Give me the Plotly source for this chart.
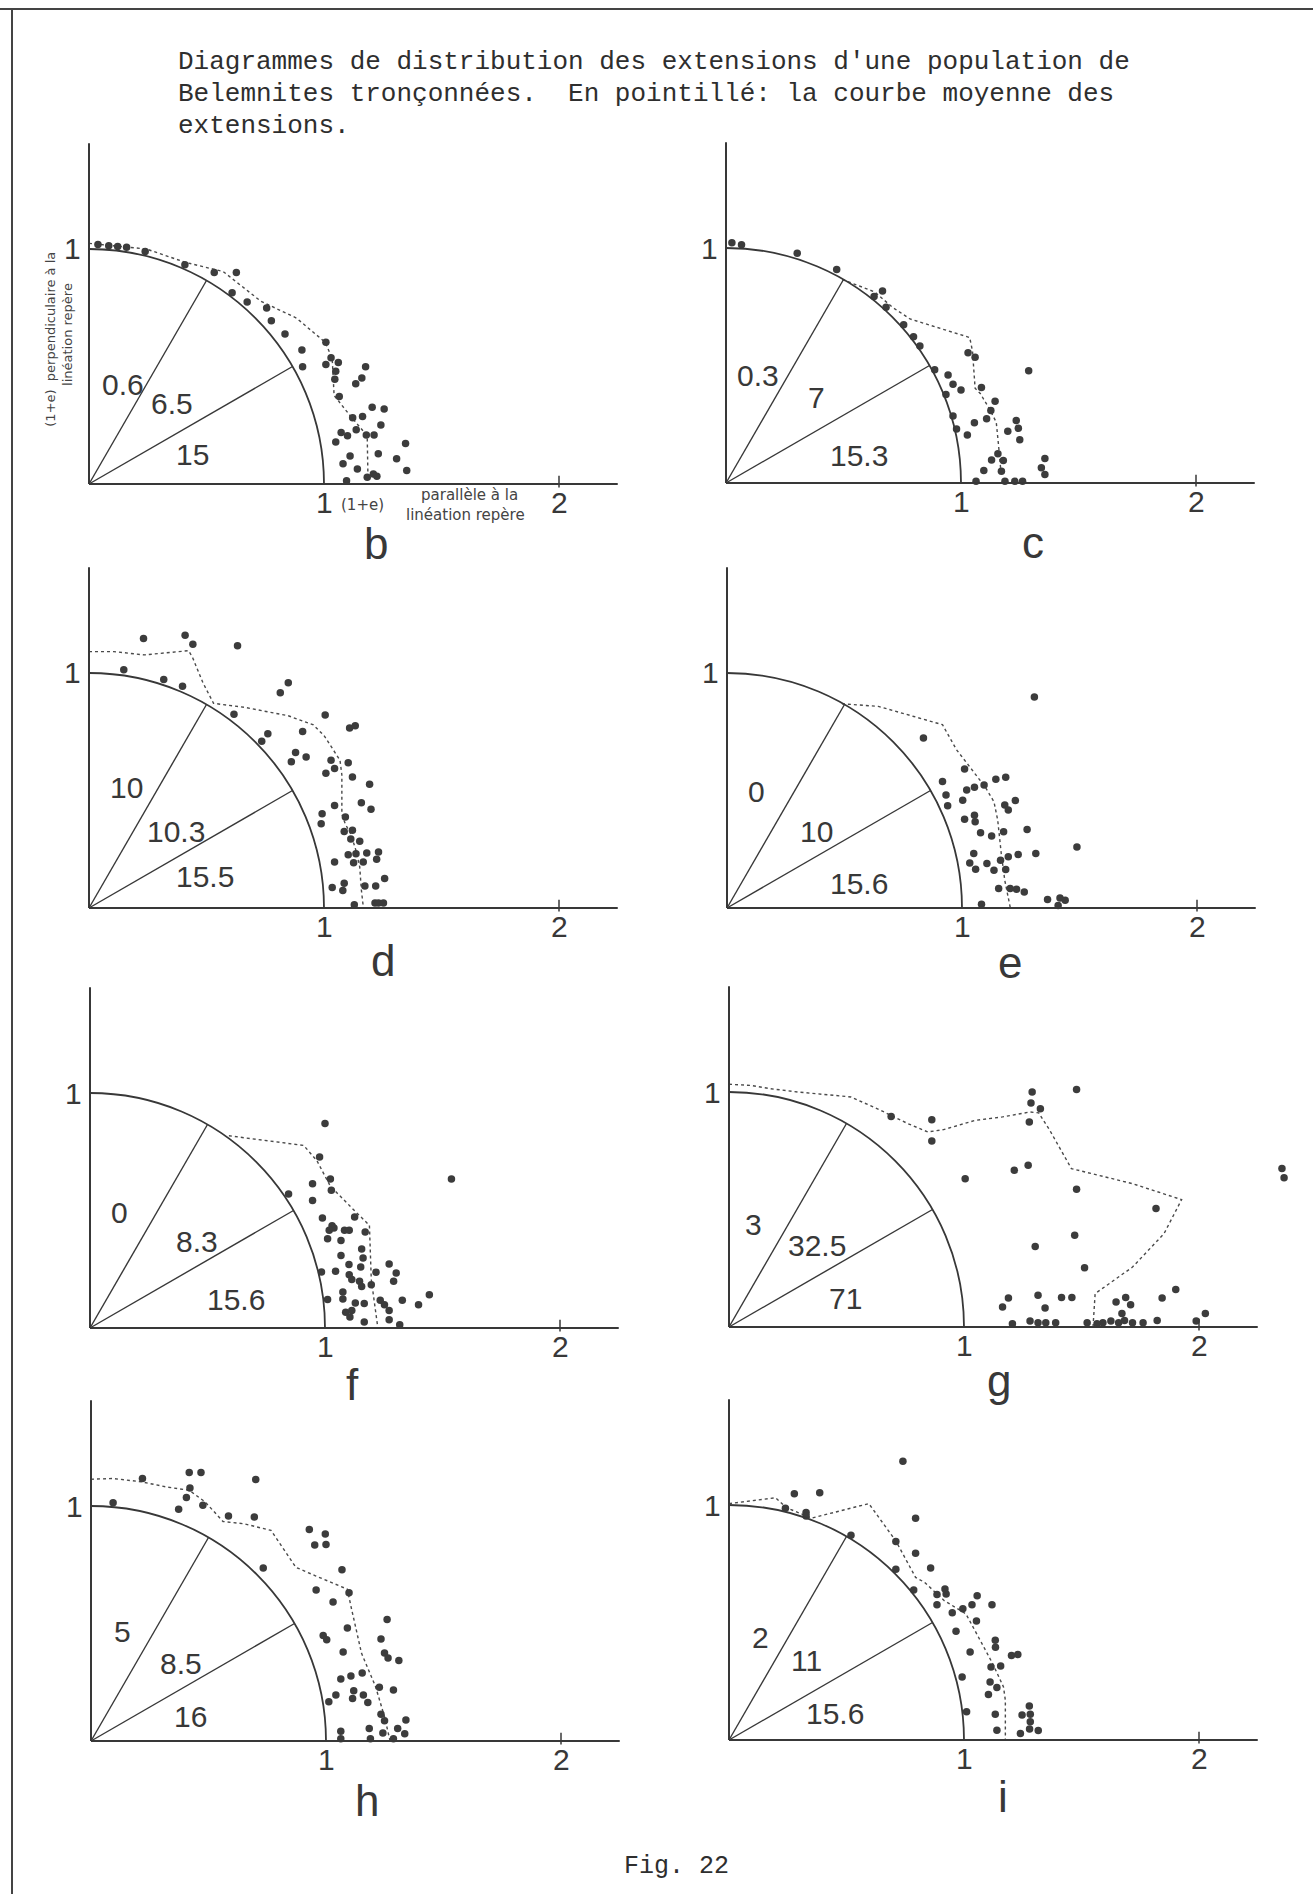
import math
import plotly.graph_objects as go

FIG_W, FIG_H = 1313, 1894
UNIT_PX = 235.0
X_RANGE = [-0.25, 2.45]
Y_RANGE = [-0.32, 1.5]
AXIS_X_END = 2.25
AXIS_Y_END = 1.45

INK = "#383838"
DOT = "#3c3c3c"

TITLE_LINES = [
    "Diagrammes de distribution des extensions d'une population de",
    "Belemnites tronçonnées.\u00a0 En pointillé: la courbe moyenne des",
    "extensions.",
]
FIG_LABEL = "Fig. 22"

PANELS = ["b", "c", "d", "e", "f", "g", "h", "i"]
ORIGIN_PX = {"b": (89, 484), "c": (726, 483), "d": (89, 908), "e": (727, 908),
             "f": (90, 1328), "g": (729, 1327), "h": (91, 1741), "i": (729, 1740)}
DIVIDER_ANGLES_DEG = [60, 30]
X_TICKS = [1, 2]
Y_TICKS = [1]

SECTOR_LABELS = {
    "b": ["0.6", "6.5", "15"], "c": ["0.3", "7", "15.3"], "d": ["10", "10.3", "15.5"],
    "e": ["0", "10", "15.6"], "f": ["0", "8.3", "15.6"], "g": ["3", "32.5", "71"],
    "h": ["5", "8.5", "16"], "i": ["2", "11", "15.6"],
}
SECTOR_LABEL_POS = {
    "b": [(0.145, 0.424), (0.353, 0.341), (0.441, 0.126)],
    "c": [(0.138, 0.458), (0.385, 0.363), (0.565, 0.118)],
    "d": [(0.159, 0.513), (0.371, 0.326), (0.492, 0.133)],
    "e": [(0.126, 0.495), (0.379, 0.324), (0.561, 0.104)],
    "f": [(0.126, 0.492), (0.455, 0.369), (0.621, 0.121)],
    "g": [(0.106, 0.437), (0.374, 0.348), (0.497, 0.121)],
    "h": [(0.136, 0.464), (0.381, 0.331), (0.423, 0.103)],
    "i": [(0.134, 0.438), (0.328, 0.339), (0.450, 0.113)],
}
LETTER_POS = {"b": (1.22, -0.252), "c": (1.307, -0.252), "d": (1.25, -0.224), "e": (1.205, -0.23),
              "f": (1.117, -0.241), "g": (1.151, -0.227), "h": (1.174, -0.254), "i": (1.165, -0.24)}

# ---- measured points (1+e parallel, 1+e perpendicular) ----
b_x = [0.038, 0.084, 0.122, 0.160, 0.239, 0.408, 0.533, 0.627, 0.609, 0.673, 0.756, 0.776, 0.834, 0.906,
       0.909, 1.008, 1.030, 1.008, 1.061, 1.050, 1.046, 1.177, 1.161, 1.135, 1.065, 1.205, 1.256, 1.164,
       1.122, 1.242, 1.073, 1.137, 1.100, 1.180, 1.213, 1.050, 1.347, 1.231, 1.309, 1.111, 1.081, 1.142,
       1.352, 1.210, 1.184, 1.225, 1.096]
b_y = [1.019, 1.014, 1.011, 1.007, 0.989, 0.933, 0.900, 0.900, 0.814, 0.775, 0.749, 0.695, 0.638, 0.570,
       0.499, 0.603, 0.537, 0.509, 0.517, 0.480, 0.446, 0.499, 0.451, 0.427, 0.372, 0.327, 0.319, 0.287,
       0.282, 0.251, 0.219, 0.231, 0.205, 0.208, 0.209, 0.179, 0.172, 0.129, 0.107, 0.119, 0.086, 0.064,
       0.057, 0.043, 0.029, 0.033, 0.014]
b_mean_x = [0.0, 0.244, 0.411, 0.571, 0.731, 0.883, 1.005, 1.035, 1.043, 1.111, 1.172, 1.184, 1.187]
b_mean_y = [1.024, 1.000, 0.943, 0.904, 0.778, 0.706, 0.603, 0.534, 0.377, 0.291, 0.219, 0.198, 0.033]

c_x = [0.025, 0.066, 0.303, 0.471, 0.630, 0.666, 0.681, 0.756, 0.798, 0.825, 0.888, 0.945, 0.966, 1.000,
       0.936, 1.030, 1.060, 1.087, 1.145, 1.127, 1.109, 1.057, 1.288, 1.027, 0.966, 0.981, 1.235, 1.244,
       1.199, 1.250, 1.157, 1.130, 1.180, 1.097, 1.172, 1.357, 1.342, 1.357, 1.064, 1.187, 1.229, 1.262]
c_y = [1.022, 1.014, 0.978, 0.909, 0.794, 0.817, 0.748, 0.673, 0.622, 0.583, 0.482, 0.460, 0.420, 0.396,
       0.377, 0.554, 0.535, 0.406, 0.348, 0.309, 0.273, 0.256, 0.478, 0.204, 0.285, 0.230, 0.266, 0.233,
       0.220, 0.184, 0.125, 0.098, 0.096, 0.053, 0.050, 0.104, 0.065, 0.036, 0.007, 0.007, 0.007, 0.007]
c_mean_x = [0.495, 0.633, 0.708, 0.783, 1.037, 1.049, 1.060, 1.082, 1.120, 1.150, 1.160, 1.169]
c_mean_y = [0.866, 0.813, 0.748, 0.698, 0.619, 0.561, 0.403, 0.381, 0.317, 0.259, 0.158, 0.058]

d_x = [0.232, 0.409, 0.442, 0.632, 0.148, 0.318, 0.398, 0.814, 0.848, 0.617, 1.005, 1.109, 1.133, 0.735,
       0.761, 0.909, 0.879, 0.861, 0.924, 1.030, 1.103, 1.045, 1.008, 1.121, 1.194, 1.045, 1.159, 1.200,
       0.992, 0.988, 1.091, 1.086, 1.121, 1.114, 1.152, 1.103, 1.136, 1.182, 1.232, 1.045, 1.126, 1.167,
       1.224, 1.258, 1.035, 1.086, 1.080, 1.174, 1.220, 1.129, 1.217, 1.232, 1.253]
d_y = [1.147, 1.161, 1.122, 1.116, 1.014, 0.972, 0.944, 0.916, 0.958, 0.825, 0.821, 0.766, 0.776, 0.710,
       0.741, 0.751, 0.662, 0.622, 0.643, 0.629, 0.618, 0.594, 0.573, 0.557, 0.527, 0.436, 0.448, 0.420,
       0.401, 0.359, 0.387, 0.326, 0.331, 0.294, 0.284, 0.227, 0.231, 0.234, 0.238, 0.196, 0.193, 0.196,
       0.207, 0.126, 0.087, 0.105, 0.074, 0.094, 0.094, 0.014, 0.021, 0.021, 0.021]
d_mean_x = [0.0, 0.106, 0.235, 0.333, 0.424, 0.442, 0.485, 0.530, 0.667, 0.848, 0.955, 1.000, 1.045,
            1.068, 1.076, 1.076, 1.091, 1.114, 1.136, 1.152, 1.159, 1.167]
d_mean_y = [1.091, 1.091, 1.077, 1.087, 1.095, 1.063, 0.958, 0.871, 0.853, 0.818, 0.779, 0.734, 0.664,
            0.629, 0.566, 0.399, 0.357, 0.315, 0.245, 0.175, 0.077, 0.007]

e_x = [1.308, 0.836, 1.011, 0.917, 0.932, 0.939, 1.003, 1.020, 1.053, 1.094, 1.144, 1.186, 1.182, 1.227,
       1.197, 1.011, 1.053, 1.056, 1.079, 1.126, 1.177, 1.277, 1.050, 1.033, 1.058, 1.106, 1.136, 1.186,
       1.164, 1.197, 1.239, 1.314, 1.489, 1.156, 1.205, 1.232, 1.265, 1.364, 1.417, 1.439, 1.409, 1.083]
e_y = [0.898, 0.723, 0.592, 0.538, 0.481, 0.435, 0.459, 0.502, 0.514, 0.523, 0.548, 0.556, 0.438, 0.457,
       0.417, 0.378, 0.395, 0.367, 0.320, 0.306, 0.324, 0.334, 0.232, 0.192, 0.165, 0.189, 0.161, 0.164,
       0.203, 0.218, 0.228, 0.232, 0.260, 0.083, 0.083, 0.080, 0.068, 0.036, 0.043, 0.033, 0.011, 0.016]
e_mean_x = [0.489, 0.644, 0.795, 0.917, 0.977, 1.038, 1.098, 1.136, 1.152, 1.167, 1.182, 1.205]
e_mean_y = [0.869, 0.858, 0.815, 0.780, 0.673, 0.595, 0.516, 0.452, 0.374, 0.232, 0.118, 0.004]

f_x = [1.000, 0.977, 1.023, 1.027, 0.947, 0.947, 0.845, 0.989, 1.126, 1.030, 1.038, 1.018, 1.083, 1.103,
       1.171, 1.011, 1.068, 1.156, 1.068, 1.162, 1.102, 1.152, 0.985, 1.045, 1.103, 1.114, 1.147, 1.156,
       1.197, 1.217, 1.273, 1.303, 1.292, 1.076, 1.076, 1.011, 1.444, 1.235, 1.253, 1.329, 1.398, 1.129,
       1.167, 1.088, 1.114, 1.106, 1.273, 1.167, 1.273, 1.318, 1.538]
f_y = [0.870, 0.728, 0.634, 0.586, 0.614, 0.543, 0.570, 0.468, 0.472, 0.435, 0.426, 0.416, 0.416, 0.416,
       0.409, 0.380, 0.372, 0.336, 0.309, 0.298, 0.270, 0.260, 0.238, 0.241, 0.227, 0.206, 0.199, 0.177,
       0.184, 0.237, 0.272, 0.234, 0.199, 0.153, 0.123, 0.121, 0.142, 0.118, 0.099, 0.118, 0.099, 0.106,
       0.104, 0.067, 0.075, 0.047, 0.074, 0.026, 0.035, 0.014, 0.634]
f_mean_x = [0.591, 0.909, 0.965, 1.023, 1.129, 1.189, 1.197, 1.224]
f_mean_y = [0.818, 0.777, 0.713, 0.603, 0.496, 0.437, 0.206, 0.007]

g_x = [1.479, 1.290, 1.285, 1.325, 1.278, 0.863, 0.863, 0.690, 1.005, 1.214, 1.273, 2.353, 2.362, 1.479,
       1.817, 1.471, 1.303, 1.513, 1.901, 1.843, 1.189, 1.315, 1.415, 1.459, 1.164, 1.345, 1.647, 1.688,
       1.709, 1.672, 1.822, 2.027, 1.988, 1.206, 1.281, 1.315, 1.348, 1.390, 1.524, 1.566, 1.591, 1.625,
       1.658, 1.683, 1.717, 1.762]
g_y = [1.011, 1.000, 0.953, 0.929, 0.872, 0.882, 0.791, 0.896, 0.631, 0.667, 0.688, 0.674, 0.635, 0.586,
       0.504, 0.390, 0.343, 0.252, 0.160, 0.123, 0.123, 0.135, 0.125, 0.125, 0.085, 0.081, 0.106, 0.125,
       0.095, 0.057, 0.028, 0.057, 0.026, 0.014, 0.026, 0.018, 0.018, 0.018, 0.018, 0.014, 0.018, 0.026,
       0.018, 0.028, 0.018, 0.018]
g_mean_x = [0.0, 0.092, 0.176, 0.293, 0.519, 0.645, 0.762, 0.846, 0.913, 1.047, 1.164, 1.281, 1.318,
            1.365, 1.457, 1.549, 1.717, 1.926, 1.851, 1.717, 1.558, 1.549]
g_mean_y = [1.033, 1.028, 1.014, 1.000, 0.979, 0.922, 0.865, 0.830, 0.840, 0.879, 0.894, 0.915, 0.911,
            0.837, 0.674, 0.652, 0.610, 0.542, 0.397, 0.255, 0.142, 0.000]

h_x = [0.094, 0.219, 0.418, 0.468, 0.701, 0.421, 0.406, 0.373, 0.476, 0.585, 0.695, 0.929, 0.997, 0.952,
       1.000, 0.733, 1.068, 0.958, 1.098, 1.030, 1.260, 1.091, 0.988, 1.003, 1.234, 1.249, 1.264, 1.310,
       1.073, 1.154, 1.106, 1.063, 1.227, 1.287, 1.042, 1.012, 1.118, 1.159, 1.113, 1.178, 1.234, 1.249,
       1.340, 1.184, 1.242, 1.063, 1.305, 1.335, 1.287, 1.189, 1.063]
h_y = [1.014, 1.117, 1.143, 1.143, 1.113, 1.077, 1.036, 0.986, 1.003, 0.957, 0.953, 0.900, 0.881, 0.834,
       0.836, 0.736, 0.729, 0.643, 0.631, 0.591, 0.517, 0.481, 0.449, 0.431, 0.434, 0.374, 0.353, 0.343,
       0.379, 0.289, 0.277, 0.264, 0.229, 0.217, 0.196, 0.167, 0.214, 0.196, 0.181, 0.164, 0.114, 0.086,
       0.089, 0.053, 0.034, 0.041, 0.053, 0.031, 0.010, 0.010, 0.010]
h_mean_x = [0.0, 0.094, 0.215, 0.320, 0.418, 0.486, 0.562, 0.653, 0.766, 0.811, 0.872, 0.955, 1.091,
            1.106, 1.151, 1.211, 1.249, 1.272]
h_mean_y = [1.114, 1.117, 1.103, 1.081, 1.067, 1.017, 0.934, 0.924, 0.896, 0.831, 0.739, 0.703, 0.646,
            0.574, 0.374, 0.231, 0.103, 0.003]

i_x = [0.740, 0.278, 0.386, 0.240, 0.328, 0.328, 0.519, 0.794, 0.710, 0.794, 0.710, 0.858, 0.786, 0.885,
       0.924, 0.919, 0.885, 0.950, 0.995, 1.034, 1.056, 1.119, 1.053, 0.966, 1.133, 1.134, 1.026, 1.202,
       1.229, 1.115, 1.156, 0.992, 1.111, 1.140, 1.104, 1.011, 1.133, 1.278, 1.247, 1.282, 1.282, 1.140,
       1.316, 1.279, 1.240]
i_y = [1.186, 1.048, 1.052, 0.986, 0.968, 0.953, 0.871, 0.944, 0.845, 0.795, 0.727, 0.732, 0.638, 0.619,
       0.621, 0.643, 0.576, 0.541, 0.558, 0.576, 0.614, 0.576, 0.506, 0.463, 0.424, 0.395, 0.374, 0.360,
       0.364, 0.311, 0.315, 0.268, 0.247, 0.223, 0.194, 0.120, 0.110, 0.145, 0.106, 0.110, 0.078, 0.042,
       0.040, 0.047, 0.028]
i_mean_x = [0.0, 0.198, 0.244, 0.351, 0.595, 0.710, 0.794, 0.832, 0.916, 1.008, 1.069, 1.122, 1.168,
            1.176, 1.176]
i_mean_y = [1.006, 1.031, 0.989, 0.944, 1.006, 0.847, 0.692, 0.671, 0.593, 0.537, 0.424, 0.325, 0.226,
            0.169, 0.000]

POINTS = {
    "b": (b_x, b_y, b_mean_x, b_mean_y), "c": (c_x, c_y, c_mean_x, c_mean_y),
    "d": (d_x, d_y, d_mean_x, d_mean_y), "e": (e_x, e_y, e_mean_x, e_mean_y),
    "f": (f_x, f_y, f_mean_x, f_mean_y), "g": (g_x, g_y, g_mean_x, g_mean_y),
    "h": (h_x, h_y, h_mean_x, h_mean_y), "i": (i_x, i_y, i_mean_x, i_mean_y),
}

fig = go.Figure()
shapes = []
annotations = []
layout = dict(
    width=FIG_W, height=FIG_H, margin=dict(l=0, r=0, t=0, b=0),
    paper_bgcolor="white", plot_bgcolor="rgba(0,0,0,0)", showlegend=False,
)

NUM_FONT = dict(family="Liberation Sans", size=30, color=INK)

for n, p in enumerate(PANELS, start=1):
    s = "" if n == 1 else str(n)
    xr, yr = "x" + s, "y" + s
    ox, oy = ORIGIN_PX[p]
    xd = [(ox + X_RANGE[0] * UNIT_PX) / FIG_W, (ox + X_RANGE[1] * UNIT_PX) / FIG_W]
    yd = [1 - (oy - Y_RANGE[0] * UNIT_PX) / FIG_H, 1 - (oy - Y_RANGE[1] * UNIT_PX) / FIG_H]
    layout["xaxis" + s] = dict(domain=xd, range=X_RANGE, anchor=yr, visible=False, fixedrange=True)
    layout["yaxis" + s] = dict(domain=yd, range=Y_RANGE, anchor=xr, visible=False, fixedrange=True)

    px_, py_, mx, my = POINTS[p]
    fig.add_trace(go.Scatter(
        x=mx, y=my, xaxis=xr, yaxis=yr, mode="lines", cliponaxis=False,
        line=dict(color="#4a4a4a", width=1.4, dash="dot"), hoverinfo="skip",
    ))
    fig.add_trace(go.Scatter(
        x=px_, y=py_, xaxis=xr, yaxis=yr, mode="markers", cliponaxis=False,
        marker=dict(size=7.5, color=DOT, line=dict(width=0)), hoverinfo="skip",
    ))

    ln = dict(color=INK, width=2)
    shapes.append(dict(type="line", xref=xr, yref=yr, x0=0, y0=0, x1=AXIS_X_END, y1=0, line=ln))
    shapes.append(dict(type="line", xref=xr, yref=yr, x0=0, y0=0, x1=0, y1=AXIS_Y_END, line=ln))
    shapes.append(dict(type="line", xref=xr, yref=yr, x0=2, y0=-0.015, x1=2, y1=0.035,
                       line=dict(color=INK, width=1.5)))
    shapes.append(dict(type="path", xref=xr, yref=yr,
                       path="M 0,1 C 0.5523,1 1,0.5523 1,0", line=dict(color=INK, width=1.8)))
    for a in DIVIDER_ANGLES_DEG:
        r = math.radians(a)
        shapes.append(dict(type="line", xref=xr, yref=yr, x0=0, y0=0,
                           x1=math.cos(r), y1=math.sin(r), line=dict(color=INK, width=1.4)))

    # axis tick labels
    for t in X_TICKS:
        annotations.append(dict(xref=xr, yref=yr, x=t, y=-0.078, text=str(t), showarrow=False,
                                font=NUM_FONT))
    for t in Y_TICKS:
        annotations.append(dict(xref=xr, yref=yr, x=-0.072, y=t, text=str(t), showarrow=False,
                                font=NUM_FONT))

    for txt, (tx, ty) in zip(SECTOR_LABELS[p], SECTOR_LABEL_POS[p]):
        annotations.append(dict(xref=xr, yref=yr, x=tx, y=ty, text=txt, showarrow=False,
                                font=NUM_FONT))
    lx, ly = LETTER_POS[p]
    annotations.append(dict(xref=xr, yref=yr, x=lx, y=ly, text=p, showarrow=False,
                            font=dict(family="Liberation Sans", size=44, color=INK)))

    if p == "b":
        hw = dict(family="DejaVu Sans", size=15, color="#444444")
        hwv = dict(family="DejaVu Sans", size=13, color="#444444")
        annotations += [
            dict(xref=xr, yref=yr, x=1.165, y=-0.09, text="(1+e)", showarrow=False, font=hw),
            dict(xref=xr, yref=yr, x=1.62, y=-0.045, text="parallèle à la", showarrow=False, font=hw),
            dict(xref=xr, yref=yr, x=1.60, y=-0.13, text="linéation repère", showarrow=False, font=hw),
            dict(xref=xr, yref=yr, x=-0.165, y=0.615, text="(1+e)\u00a0 perpendiculaire à la",
                 textangle=-90, showarrow=False, font=hwv),
            dict(xref=xr, yref=yr, x=-0.092, y=0.636, text="linéation repère",
                 textangle=-90, showarrow=False, font=hwv),
        ]

title_y_px = [62, 94, 126]
for line, ypx in zip(TITLE_LINES, title_y_px):
    annotations.append(dict(xref="paper", yref="paper", x=176 / FIG_W, y=1 - ypx / FIG_H,
                            xanchor="left", yanchor="middle", text=line, showarrow=False,
                            font=dict(family="Liberation Mono", size=26, color="#2e2e2e")))
annotations.append(dict(xref="paper", yref="paper", x=676 / FIG_W, y=1 - 1866 / FIG_H,
                        xanchor="center", yanchor="middle", text=FIG_LABEL, showarrow=False,
                        font=dict(family="Liberation Mono", size=25, color="#2e2e2e")))

# page frame from the scan
shapes.append(dict(type="line", xref="paper", yref="paper", x0=0, x1=1, y0=1 - 9 / FIG_H, y1=1 - 9 / FIG_H,
                   line=dict(color="#444444", width=2)))
shapes.append(dict(type="line", xref="paper", yref="paper", x0=12 / FIG_W, x1=12 / FIG_W,
                   y0=0, y1=1 - 10 / FIG_H, line=dict(color="#444444", width=2)))

layout["shapes"] = shapes
layout["annotations"] = annotations
fig.update_layout(**layout)

fig.write_html("out.html", config={"displayModeBar": False},
               post_script="document.body.style.margin='0';")
